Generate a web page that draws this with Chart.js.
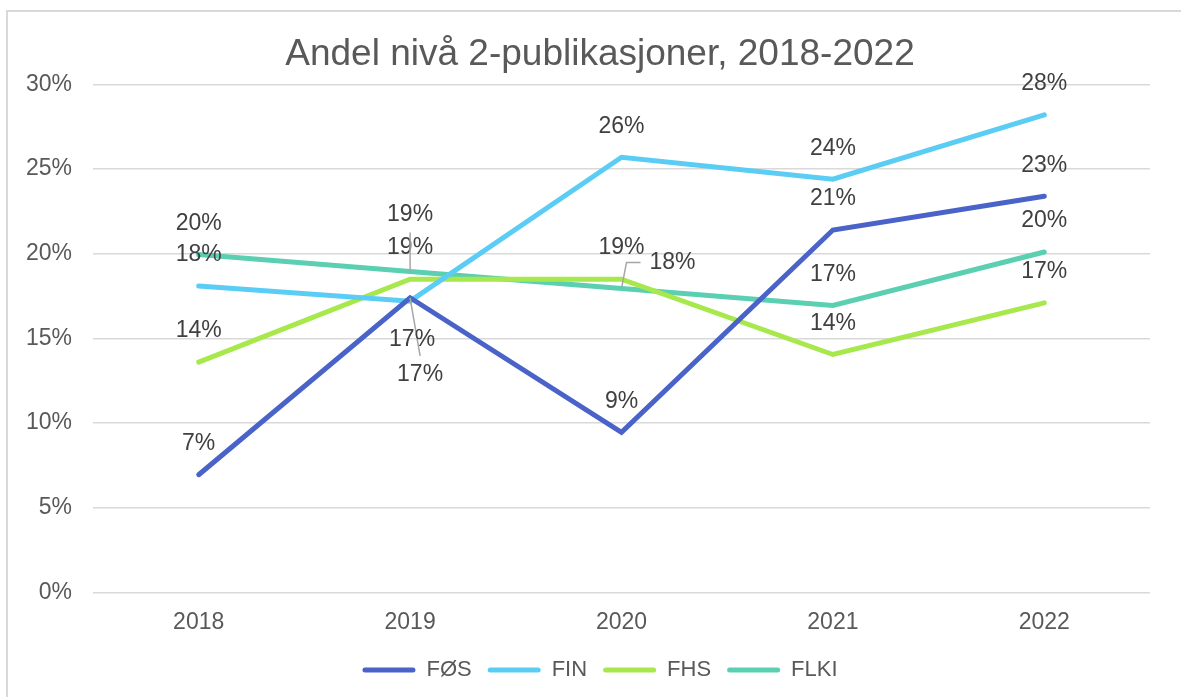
<!DOCTYPE html>
<html>
<head>
<meta charset="utf-8">
<script src="https://cdn.jsdelivr.net/npm/chart.js@4"></script>
<style>
body{margin:0;background:#fff;overflow:hidden;}
#frame{position:absolute;left:6px;top:10px;width:1300px;height:800px;border-left:2px solid #d9d9d9;border-top:2px solid #d9d9d9;}
canvas{position:absolute;left:0;top:0;}
</style>
</head>
<body>
<div id="frame"></div>
<canvas id="myChart" width="1181" height="697"></canvas>
<script>
// chart data
var years = ['2018', '2019', '2020', '2021', '2022'];
var fos = [6.95, 17.4, 9.45, 21.4, 23.4];
var fin = [18.1, 17.2, 25.7, 24.4, 28.2];
var fhs = [13.6, 18.5, 18.5, 14.05, 17.1];
var flki = [19.95, 18.95, 17.95, 16.95, 20.1];
var yTicks = [0, 5, 10, 15, 20, 25, 30];

var font = '"Liberation Sans", Arial, sans-serif';

// label positions that Excel moved by hand (dataset-point)
var labelOffsets = {
    '0-1': {dx: 10, dy: 77, leader: 'down'},
    '1-1': {dx: 2, dy: 39},
    '3-1': {dx: 0, dy: -57, leader: 'up'},
    '3-2': {dx: 51, dy: -26, leader: 'elbow'}
};

const dataLabels = {
    id: 'dataLabels',
    afterLayout: function(chart) {
        // let the y tick labels draw left of the padded area without clipping
        chart.scales.y.left = 20;
    },
    afterDatasetsDraw: function(chart) {
        var ctx = chart.ctx;
        ctx.save();
        ctx.font = '23px ' + font;
        ctx.fillStyle = '#404040';
        ctx.textAlign = 'center';
        ctx.textBaseline = 'middle';
        ctx.strokeStyle = '#a6a6a6';
        ctx.lineWidth = 1.5;
        chart.data.datasets.forEach(function(ds, d) {
            chart.getDatasetMeta(d).data.forEach(function(pt, i) {
                var o = labelOffsets[d + '-' + i] || {dx: 0, dy: -31};
                var lx = pt.x + o.dx;
                var ly = pt.y + o.dy;
                if (o.leader) {
                    ctx.beginPath();
                    ctx.moveTo(pt.x, pt.y);
                    if (o.leader == 'down') ctx.lineTo(lx, ly - 19);
                    if (o.leader == 'up') ctx.lineTo(lx, ly + 18);
                    if (o.leader == 'elbow') {
                        ctx.lineTo(lx - 46, ly);
                        ctx.lineTo(lx - 32, ly);
                    }
                    ctx.stroke();
                }
                ctx.fillText(Math.round(ds.data[i]) + '%', lx, ly);
            });
        });
        ctx.restore();
    }
};

function line(label, values, color) {
    return {
        label: label,
        data: values,
        borderColor: color,
        backgroundColor: color,
        borderWidth: 5,
        borderCapStyle: 'round',
        pointRadius: 0,
        tension: 0
    };
}

const data = {
    labels: years,
    datasets: [
        line('FØS', fos, '#4a63c9'),
        line('FIN', fin, '#5bcdf4'),
        line('FHS', fhs, '#a7e84c'),
        line('FLKI', flki, '#5bcfb1')
    ]
};

const config = {
    type: 'line',
    data: data,
    options: {
        responsive: false,
        animation: false,
        layout: {padding: {left: 50, right: 31, top: 0, bottom: 6}},
        plugins: {
            title: {
                display: true,
                text: 'Andel nivå 2-publikasjoner, 2018-2022',
                color: '#595959',
                font: {family: font, size: 37, weight: 'normal'},
                padding: {top: 33, bottom: 7}
            },
            legend: {
                position: 'bottom',
                labels: {
                    color: '#595959',
                    font: {family: font, size: 22},
                    boxWidth: 53,
                    boxHeight: 5,
                    padding: 16,
                    useBorderRadius: true,
                    borderRadius: 2.5,
                    generateLabels: function(chart) {
                        return Chart.defaults.plugins.legend.labels.generateLabels(chart).map(function(l) {
                            l.lineWidth = 0;
                            return l;
                        });
                    }
                }
            },
            tooltip: {enabled: false}
        },
        scales: {
            x: {
                offset: true,
                grid: {display: false, drawTicks: false},
                border: {display: false},
                ticks: {color: '#595959', font: {family: font, size: 23}, padding: 16},
                afterFit: function(scale) { scale.height -= 9; }
            },
            y: {
                min: 0,
                max: 30,
                afterFit: function(scale) { scale.width = 43; },
                afterBuildTicks: function(scale) {
                    scale.ticks = yTicks.map(function(v) { return {value: v}; });
                },
                grid: {color: '#d9d9d9', lineWidth: 1.5, drawTicks: false},
                border: {display: false},
                ticks: {
                    color: '#595959',
                    font: {family: font, size: 23},
                    padding: 21,
                    callback: function(v) { return v + '%'; }
                }
            }
        }
    },
    plugins: [dataLabels]
};

const myChart = new Chart(document.getElementById('myChart'), config);
</script>
</body>
</html>
